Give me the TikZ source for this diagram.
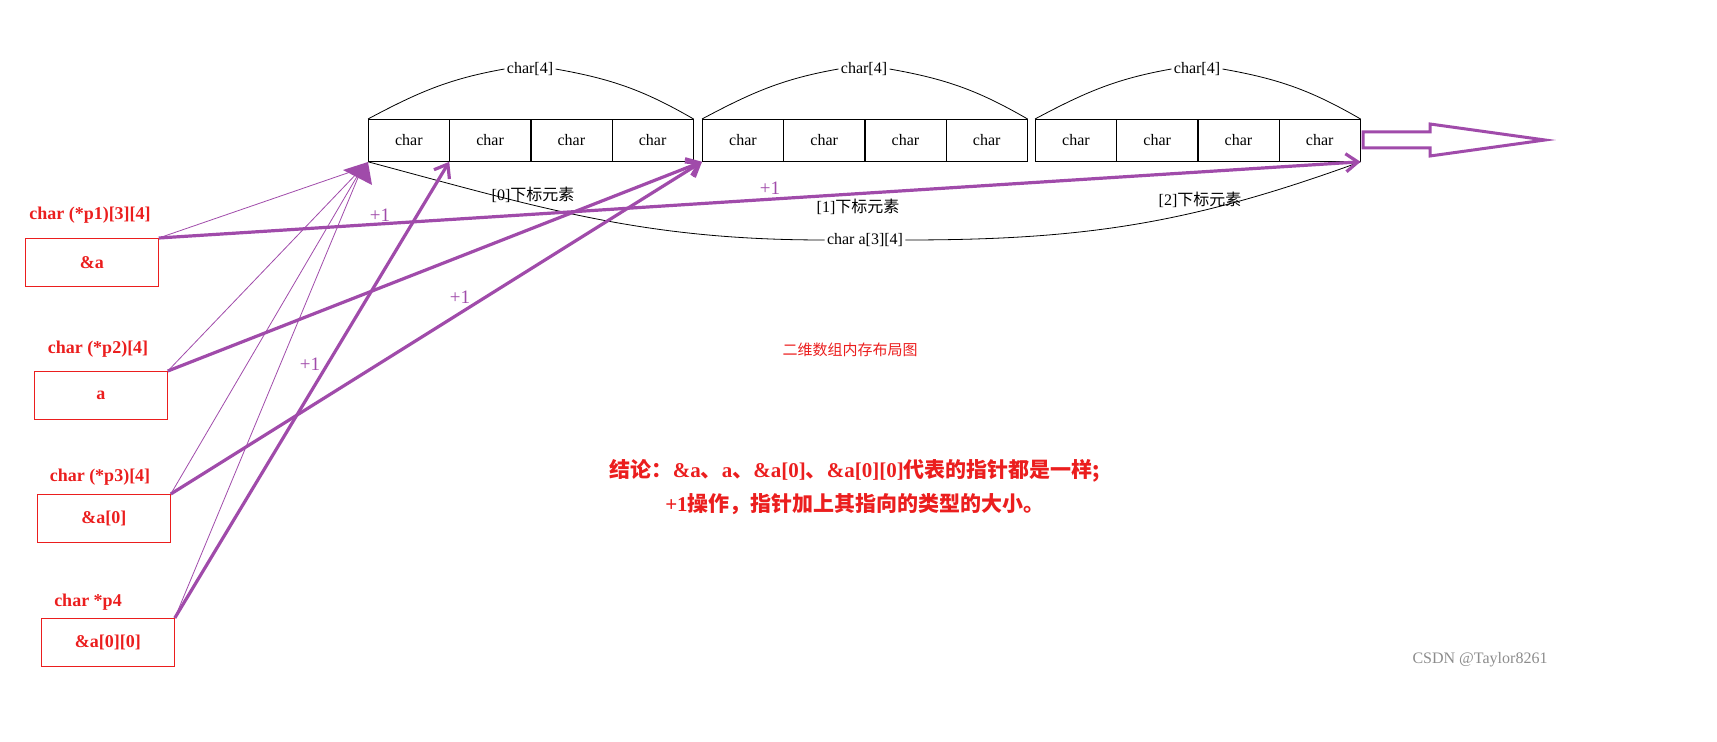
\documentclass[tikz,border=0pt]{standalone}
\usepackage{fontspec}
\setmainfont{Liberation Serif}
\newfontfamily\cjk{Noto Sans CJK SC}
\usetikzlibrary{arrows.meta}
\definecolor{ptr}{RGB}{160,75,170}
\definecolor{lab}{RGB}{235,30,30}

\begin{document}
\begin{tikzpicture}[x=0.5pt,y=-0.5pt,
  cell/.style={draw,minimum width=40.5pt,minimum height=21pt,inner sep=0pt,font=\fontsize{8}{9}\selectfont},
  ptrbox/.style={draw=lab,text=lab,minimum width=66.5pt,minimum height=24pt,inner sep=0pt,font=\bfseries\fontsize{9}{10}\selectfont},
  ptrname/.style={text=lab,font=\bfseries\fontsize{9}{10}\selectfont},
  plus/.style={text=ptr,font=\fontsize{9.5}{10}\selectfont},
  thin/.style={draw=ptr,line width=0.4pt},
  thick/.style={draw=ptr,line width=1.6pt,-{Straight Barb[length=6pt,width=9pt]}},
  small/.style={font=\fontsize{8}{9}\selectfont}]
\useasboundingbox (0,0) rectangle (1717,742);

% the three rows of char[4]
\foreach \r/\x in {0/368,1/702,2/1035} {
  \foreach \c in {0,...,3}
    \node [cell,anchor=north west] (c\r\c) at (\x+\c*81.25,119) {char};
  \node [small,inner sep=1pt] (w\r) at (\x+162,69) {char[4]};
  \draw (c\r0.north west) to [out=28,in=190] (w\r.west);
  \draw (w\r.east) to [out=-10,in=150] (c\r3.north east);
}
\node [small,fill=white,inner sep=1pt] (whole) at (865,240) {char a[3][4]};
\draw (c00.south west) to [out=-15,in=180] (whole.west);
\draw (whole.east) to [out=0,in=200] (c23.south east);
\node [small] at (533,195) {[0]{\cjk 下标元素}};
\node [small] at (858,207) {[1]{\cjk 下标元素}};
\node [small] at (1200,200) {[2]{\cjk 下标元素}};

% hollow arrow
\draw [ptr,line width=1.5pt] (1363,132) -- (1430,132) -- (1430,124) -- (1545,140) -- (1430,156) -- (1430,148) -- (1363,148) -- cycle;

% pointer variables
\node [ptrbox,anchor=north west] (p1) at (25,238) {\&a};
\node [ptrbox,anchor=north west] (p2) at (34,371) {a};
\node [ptrbox,anchor=north west] (p3) at (37,494) {\&a[0]};
\node [ptrbox,anchor=north west] (p4) at (41,618) {\&a[0][0]};
\node [ptrname] at (90,215) {char (*p1)[3][4]};
\node [ptrname] at (98,349) {char (*p2)[4]};
\node [ptrname] at (100,477) {char (*p3)[4]};
\node [ptrname] at (88,602) {char *p4};

% all point at a[0][0]
\coordinate (base) at (362,168);
\foreach \p in {p1,p2,p3,p4}
  \draw [thin] (\p.north east) -- (base);
\fill [ptr] (368,162) -- (343,170) -- (372,185) -- cycle;

% +1 steps
\draw [thick] (p1.north east) -- (c23.south east);
\draw [thick] (p2.north east) -- (c10.south west);
\draw [thick] (p3.north east) -- (c10.south west);
\draw [thick] (p4.north east) -- (c01.south west);
\node [plus] at (380,215) {+1};
\node [plus] at (460,297) {+1};
\node [plus] at (310,364) {+1};
\node [plus] at (770,188) {+1};

\node [text=lab,font=\cjk\fontsize{7.5}{8}\selectfont] at (850,350) {二维数组内存布局图};
\node [text=lab,font=\bfseries\fontsize{10.5}{17}\selectfont,align=center] at (855,487)
  {{\cjk 结论：}\&a{\cjk 、}a{\cjk 、}\&a[0]{\cjk 、}\&a[0][0]{\cjk 代表的指针都是一样;}\\
   +1{\cjk 操作，指针加上其指向的类型的大小。}};
\node [text=black!45,font=\fontsize{8}{9}\selectfont] at (1480,660) {CSDN @Taylor8261};
\end{tikzpicture}
\end{document}
